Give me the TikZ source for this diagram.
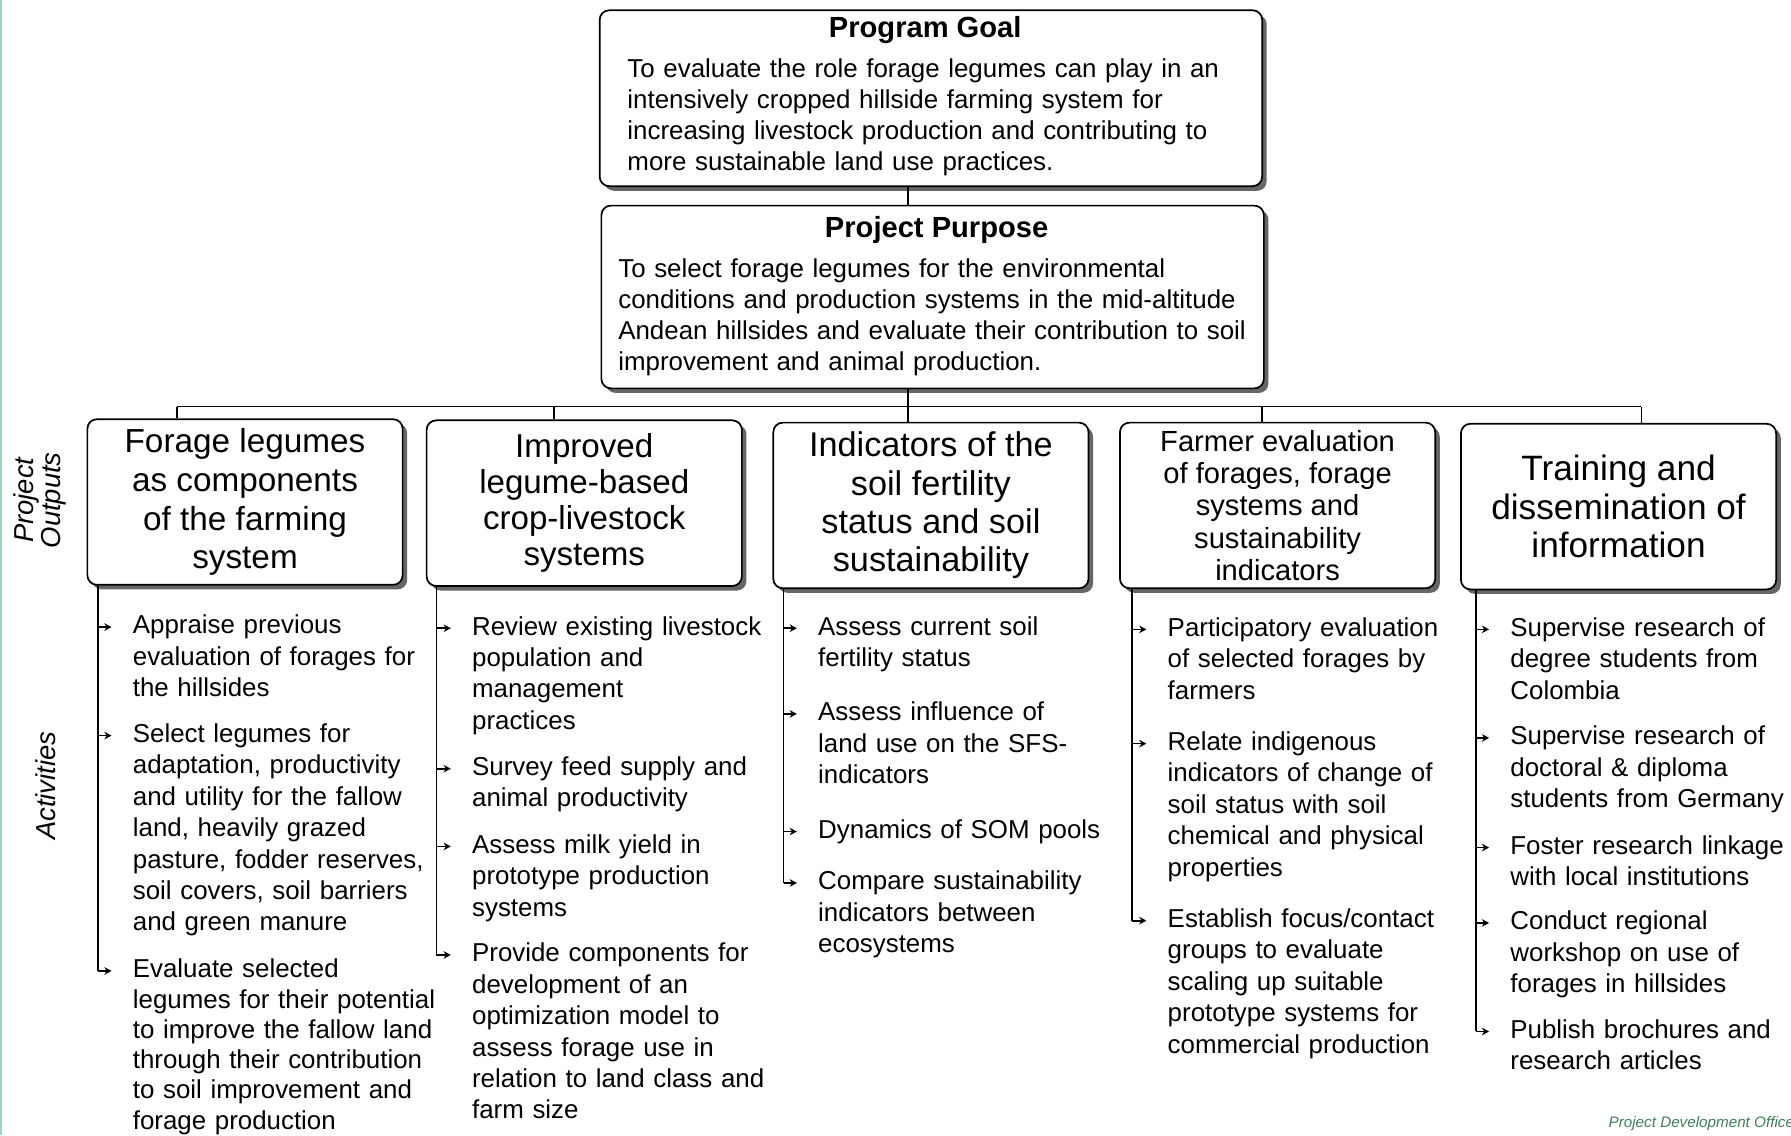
\documentclass[tikz,border=0pt]{standalone}
\usepackage{fontspec}
\setmainfont{Liberation Sans}
\usetikzlibrary{shadows,arrows.meta}
\definecolor{officegreen}{rgb}{0.25,0.5,0.35}
\definecolor{scanedge}{rgb}{0.62,0.83,0.76}
\tikzset{
  frame/.style={draw, line width=0.9pt, rounded corners=5pt, fill=white,
    drop shadow={shadow xshift=2.4pt, shadow yshift=-2.4pt, fill=black!60, opacity=1}},
  topbox/.style={frame, minimum width=348pt, inner sep=0pt},
  outbox/.style={frame, minimum width=165.6pt, minimum height=87pt, inner sep=0pt,
    align=center, font=\fontsize{17.5}{20.4}\selectfont},
  heading/.style={anchor=base, font=\fontsize{15.3}{18}\selectfont\bfseries},
  body/.style={anchor=base west, inner sep=0pt, text width=340pt, align=left,
    font=\fontsize{13.6}{16.3}\selectfont},
  act/.style={anchor=base west, inner sep=0pt, text width=165pt, align=left,
    font=\fontsize{13.6}{16.5}\selectfont},
  side/.style={rotate=90, align=center, font=\fontsize{14.4}{14.4}\selectfont\itshape},
  tick/.style={-{Stealth[length=3.8pt,width=4pt]}, line width=0.9pt},
  link/.style={line width=0.8pt}
}
\begin{document}
\begin{tikzpicture}[x=0.6pt, y=-0.6pt]
  \useasboundingbox (0,0) rectangle (1568,994);
  \fill[scanedge] (0,0) rectangle (2,994);

  % goal and purpose
  \node[topbox, minimum height=92.4pt] (goal) at (815,86) {};
  \node[heading] (goalT) at (810,33) {Program Goal};
  \node[body] (goalB) at (549,68) {To evaluate the role forage legumes can play in an\\
    intensively cropped hillside farming system for\\
    increasing livestock production and contributing to\\
    more sustainable land use practices.};
  \node[topbox, minimum height=96pt] (purp) at (816.5,260) {};
  \node[heading] (purpT) at (820,208) {Project Purpose};
  \node[body] (purpB) at (541,243) {To select forage legumes for the environmental\\
    conditions and production systems in the mid-altitude\\
    Andean hillsides and evaluate their contribution to soil\\
    improvement and animal production.};

  % outputs
  \node[outbox] (o1) at (214.5,439.5) {Forage legumes\\as components\\of the farming\\system};
  \node[outbox, font=\fontsize{17.4}{19}\selectfont] (o2) at (511.5,440.5) {Improved\\legume-based\\crop-livestock\\systems};
  \node[outbox, font=\fontsize{18}{20.2}\selectfont] (o3) at (815,442.5) {Indicators of the\\soil fertility\\status and soil\\sustainability};
  \node[outbox, font=\fontsize{15.3}{17}\selectfont] (o4) at (1118.5,442.5) {Farmer evaluation\\of forages, forage\\systems and\\sustainability\\indicators};
  \node[outbox, font=\fontsize{18.5}{20.2}\selectfont] (o5) at (1417,443.5) {Training and\\dissemination of\\information};

  \coordinate (hub) at (795,356);
  \coordinate (d1) at (155,356);
  \coordinate (d2) at (485,356);
  \coordinate (d3) at (795,356);
  \coordinate (d4) at (1105,356);
  \coordinate (d5) at (1437,356);
  \draw[link] (hub |- goal.south) -- (hub |- purp.north);
  \draw[link] (hub |- purp.south) -- (hub);
  \draw[link] (d1) -- (d5);
  \foreach \i in {1,...,5}
    \draw[link] (d\i) -- (d\i |- o\i.north);

  \node[side] (outs) at (35,438) {Project\\Outputs};
  \node[side] (acts) at (40,688) {Activities};

  % activities
  \coordinate (s1) at (86,0);
  \coordinate (s2) at (382,0);
  \coordinate (s3) at (686,0);
  \coordinate (s4) at (991,0);
  \coordinate (s5) at (1292,0);

  \node[act] (a11) at (116,555) {Appraise previous\\evaluation of forages for\\the hillsides};
  \node[act] (a12) at (116,650) {Select legumes for\\adaptation, productivity\\and utility for the fallow\\land, heavily grazed\\pasture, fodder reserves,\\soil covers, soil barriers\\and green manure};
  \node[act, font=\fontsize{13.6}{15.9}\selectfont] (a13) at (116,856) {Evaluate selected\\legumes for their potential\\to improve the fallow land\\through their contribution\\to soil improvement and\\forage production};

  \node[act] (a21) at (413,556) {Review existing livestock\\population and\\management\\practices};
  \node[act] (a22) at (413,679) {Survey feed supply and\\animal productivity};
  \node[act] (a23) at (413,747) {Assess milk yield in\\prototype production\\systems};
  \node[act] (a24) at (413,842) {Provide components for\\development of an\\optimization model to\\assess forage use in\\relation to land class and\\farm size};

  \node[act] (a31) at (716,556) {Assess current soil\\fertility status};
  \node[act] (a32) at (716,631) {Assess influence of\\land use on the SFS-\\indicators};
  \node[act] (a33) at (716,734) {Dynamics of SOM pools};
  \node[act] (a34) at (716,779) {Compare sustainability\\indicators between\\ecosystems};

  \node[act] (a41) at (1022,557) {Participatory evaluation\\of selected forages by\\farmers};
  \node[act] (a42) at (1022,657) {Relate indigenous\\indicators of change of\\soil status with soil\\chemical and physical\\properties};
  \node[act] (a43) at (1022,812) {Establish focus/contact\\groups to evaluate\\scaling up suitable\\prototype systems for\\commercial production};

  \node[act] (a51) at (1322,557) {Supervise research of\\degree students from\\Colombia};
  \node[act] (a52) at (1322,652) {Supervise research of\\doctoral \& diploma\\students from Germany};
  \node[act] (a53) at (1322,748) {Foster research linkage\\with local institutions};
  \node[act] (a54) at (1322,814) {Conduct regional\\workshop on use of\\forages in hillsides};
  \node[act] (a55) at (1322,909) {Publish brochures and\\research articles};

  \foreach \c/\n in {1/3,2/4,3/4,4/3,5/5}{
    \draw[link] (o\c.south -| s\c) -- ([yshift=3.6pt]a\c\n.base west -| s\c);
    \foreach \i in {1,...,\n}
      \draw[tick] ([yshift=3.6pt]a\c\i.base west -| s\c) -- ([xshift=-11pt,yshift=3.6pt]a\c\i.base west);
  }

  \node[anchor=base west, inner sep=0pt, text=officegreen, font=\fontsize{8}{9}\selectfont\itshape]
    (office) at (1408,987) {Project Development Office};
\end{tikzpicture}
\end{document}
